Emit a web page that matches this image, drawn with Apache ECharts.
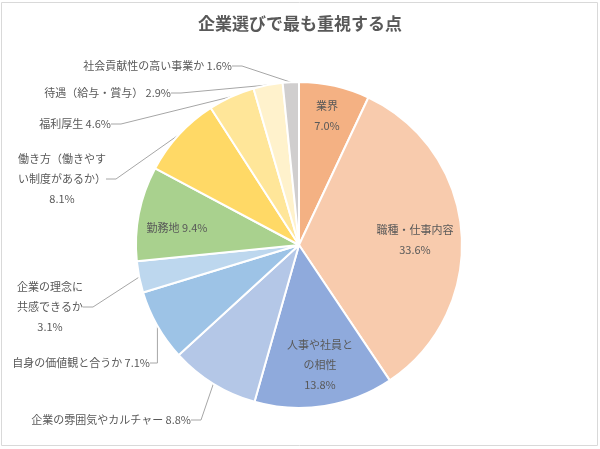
<!DOCTYPE html>
<html><head><meta charset="utf-8">
<script src="https://cdn.jsdelivr.net/npm/echarts@6/dist/echarts.min.js"></script>
<style>html,body{margin:0;padding:0;background:#fff}#c{width:600px;height:449px}</style>
</head><body><div id="c"></div>
<script>
const titleText = '企業選びで最も重視する点';
const categories = ['業界','職種・仕事内容','人事や社員との相性','企業の雰囲気やカルチャー','自身の価値観と合うか','企業の理念に共感できるか','勤務地','働き方（働きやすい制度があるか）','福利厚生','待遇（給与・賞与）','社会貢献性の高い事業か'];
const values = [7.0,33.6,13.8,8.8,7.1,3.1,9.4,8.1,4.6,2.9,1.6];
const labelTexts = ['業界\n7.0%','職種・仕事内容\n33.6%','人事や社員と\nの相性\n13.8%','企業の雰囲気やカルチャー 8.8%','自身の価値観と合うか 7.1%','企業の理念に\n共感できるか\n3.1%','勤務地 9.4%','働き方（働きやす\nい制度があるか）\n8.1%','福利厚生 4.6%','待遇（給与・賞与） 2.9%','社会貢献性の高い事業か 1.6%'];
const colors = ['#F4B183','#F8CBAD','#8FAADC','#B4C7E7','#9DC3E6','#BDD7EE','#A9D18E','#FFD966','#FFE699','#FFF2CC','#D0CECE'];
const inside = [true,true,true,false,false,false,true,false,false,false,false];
// label layout: [x, y, align]
const labelPos = [
  [327,116,'center'],[415,240,'center'],[320,365,'center'],[191,420,'right'],[150,363,'right'],
  [50,307,'center'],[177,228,'center'],[62,179,'center'],[111,124,'right'],[171,93,'right'],[232,66,'right']
];
const chart = echarts.init(document.getElementById('c'));
const data = values.map((v,i)=>({
  name: categories[i], value: v,
  itemStyle:{color: colors[i]},
  label:{position: inside[i]?'inside':'outside', formatter: labelTexts[i]},
  labelLine:{show: !inside[i]}
}));
chart.setOption({
  animation:false,
  title:{text:titleText,left:'center',top:10,textStyle:{fontFamily:'Noto Sans CJK JP',fontSize:17,fontWeight:'bold',color:'#595959'}},
  graphic:[{type:'rect',shape:{x:1.5,y:2.5,width:596,height:443},style:{fill:null,stroke:'#d9d9d9',lineWidth:1}}],
  series:[{
    type:'pie', center:[299,245], radius:[0,163], startAngle:90, clockwise:true,
    itemStyle:{borderColor:'#fff',borderWidth:2},
    label:{fontFamily:'Noto Sans CJK JP',fontSize:11,color:'#595959',lineHeight:20,overflow:'none',alignTo:'none'},
    labelLine:{lineStyle:{color:'#a6a6a6',width:1},length:10,length2:10},
    labelLayout:function(p){
      const q=labelPos[p.dataIndex];
      return {x:q[0],y:q[1],align:q[2],verticalAlign:'middle'};
    },
    data:data
  }]
});
</script></body></html>
